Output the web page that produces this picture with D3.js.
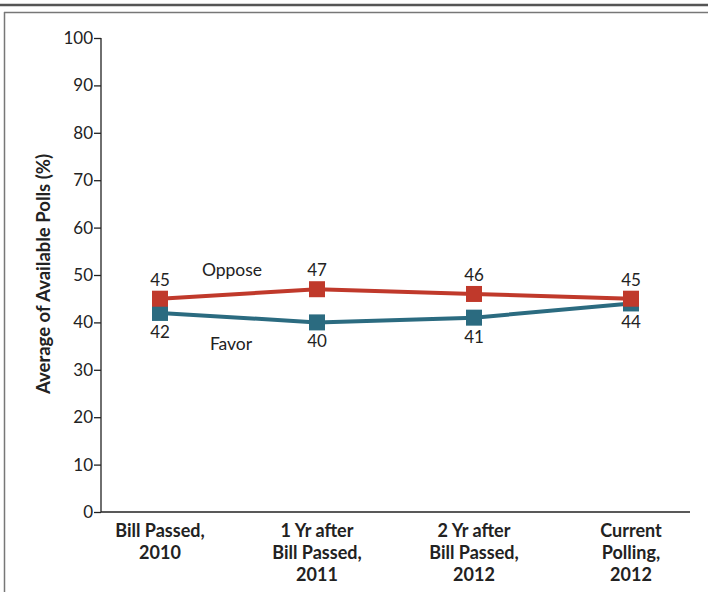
<!DOCTYPE html>
<html><head><meta charset="utf-8">
<script src="https://cdn.jsdelivr.net/npm/d3@7"></script>
<style>body{margin:0;background:#fff;}svg{display:block;font-family:Lato,"Open Sans",sans-serif;}</style>
</head><body>
<svg id="c" width="708" height="592"></svg>
<script>
const categories = [["Bill Passed,","2010"],["1 Yr after","Bill Passed,","2011"],["2 Yr after","Bill Passed,","2012"],["Current","Polling,","2012"]];
const favor = [42, 40, 41, 44];
const oppose = [45, 47, 46, 45];
const yTicks = [0,10,20,30,40,50,60,70,80,90,100];

const svg = d3.select("#c");
// frame
svg.append("line").attr("x1",0).attr("x2",708).attr("y1",5).attr("y2",5).attr("stroke","#555").attr("stroke-width",2.5);
svg.append("line").attr("x1",4).attr("x2",708).attr("y1",12.5).attr("y2",12.5).attr("stroke","#777").attr("stroke-width",1.5);
svg.append("line").attr("x1",4.5).attr("x2",4.5).attr("y1",12).attr("y2",592).attr("stroke","#777").attr("stroke-width",1.5);

const x = d3.scalePoint().domain(d3.range(categories.length)).range([160,631]);
const y = d3.scaleLinear().domain([0,100]).range([512,38]);

const ya = svg.append("g").attr("transform","translate(101,0)")
  .call(d3.axisLeft(y).tickValues(yTicks).tickSize(7).tickPadding(1));
ya.select(".domain").attr("d","M0,38V512").attr("stroke","#222").attr("stroke-width",1.3);
ya.selectAll(".tick line").attr("stroke","#222").attr("stroke-width",1.3);
ya.selectAll(".tick text").attr("font-size",17).attr("fill","#222").attr("font-family","Lato,sans-serif");

svg.append("line").attr("x1",101).attr("x2",690).attr("y1",y(0)).attr("y2",y(0)).attr("stroke","#222").attr("stroke-width",1.3);

svg.append("text").attr("transform","translate(50,274) rotate(-90)").attr("text-anchor","middle")
  .attr("font-size",18.5).attr("font-weight","bold").attr("fill","#222").text("Average of Available Polls (%)");

// category labels
categories.forEach((lines,i)=>{
  const t = svg.append("text").attr("text-anchor","middle").attr("font-size",18).attr("font-weight","bold").attr("fill","#222");
  lines.forEach((l,j)=>t.append("tspan").attr("x",x(i)).attr("y",537+j*22).text(l));
});

const line = d3.line().x((d,i)=>x(i)).y(d=>y(d));
const teal = "#2b6b80", red = "#c0392b";
svg.append("path").datum(favor).attr("d",line).attr("fill","none").attr("stroke",teal).attr("stroke-width",4);
svg.selectAll(".fm").data(favor).join("rect").attr("x",(d,i)=>x(i)-8).attr("y",d=>y(d)-8).attr("width",16).attr("height",16).attr("fill",teal);
svg.append("path").datum(oppose).attr("d",line).attr("fill","none").attr("stroke",red).attr("stroke-width",4);
svg.selectAll(".om").data(oppose).join("rect").attr("x",(d,i)=>x(i)-8).attr("y",d=>y(d)-8).attr("width",16).attr("height",16).attr("fill",red);

svg.selectAll(".ol").data(oppose).join("text").attr("x",(d,i)=>x(i)).attr("y",d=>y(d)-13).attr("text-anchor","middle")
  .attr("font-size",17).attr("fill","#222").text(d=>d);
svg.selectAll(".fl").data(favor).join("text").attr("x",(d,i)=>x(i)).attr("y",d=>y(d)+25).attr("text-anchor","middle")
  .attr("font-size",17).attr("fill","#222").text(d=>d);

svg.append("text").attr("x",232).attr("y",276).attr("text-anchor","middle").attr("font-size",17.5).attr("fill","#222").text("Oppose");
svg.append("text").attr("x",231).attr("y",350).attr("text-anchor","middle").attr("font-size",17.5).attr("fill","#222").text("Favor");
</script>
</body></html>
